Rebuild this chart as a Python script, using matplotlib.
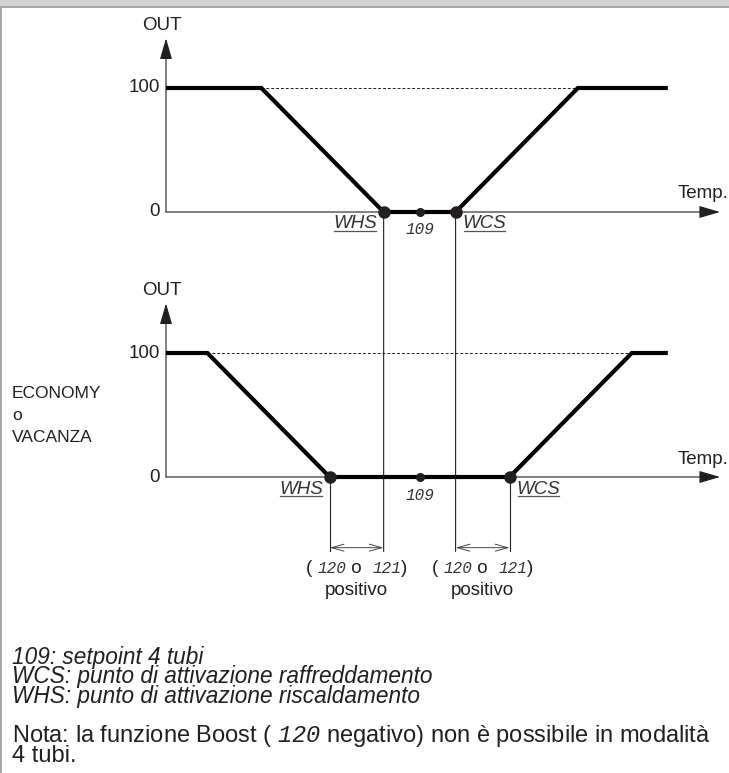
import matplotlib
matplotlib.use("Agg")
import matplotlib.pyplot as plt
from matplotlib.patches import Rectangle, ConnectionPatch
from matplotlib.lines import Line2D
from matplotlib.transforms import IdentityTransform
from matplotlib.offsetbox import TextArea, HPacker, AnnotationBbox

# ---------------- data ----------------
t_axis = [12.95, 28.35]            # temperature span of the horizontal axis
out_max = 140                      # top of the OUT axis (arrow tip)
out_ticks = [0, 100]
out_tick_labels = ["0", "100"]

setpoint_4t = 20.0                 # parameter 109
whs_comfort = 19.0
wcs_comfort = 21.0
comfort_t = [12.95, 15.6, 19.0, 21.0, 24.4, 26.9]
comfort_out = [100, 100, 0, 0, 100, 100]

whs_economy = 17.5                 # shifted by 120 / 121
wcs_economy = 22.5
economy_t = [12.95, 14.1, 17.5, 22.5, 25.9, 26.9]
economy_out = [100, 100, 0, 0, 100, 100]

dim_level = -57                    # OUT level of the offset dimension arrows

mode_label = ["ECONOMY", "o", "VACANZA"]
legend_lines = ["109: setpoint 4 tubi",
                "WCS: punto di attivazione raffreddamento",
                "WHS: punto di attivazione riscaldamento"]
note_lines = [r"Nota: la funzione Boost ( $\mathtt{120}$ negativo) non è possibile in modalità",
              "4 tubi."]

# ---------------- style ----------------
INK = "#231f20"
SANS = "Liberation Sans"
SEG = "Liberation Mono"
FS = 13.5
plt.rcParams["font.family"] = SANS
plt.rcParams["text.color"] = INK
plt.rcParams["mathtext.fontset"] = "custom"
plt.rcParams["mathtext.rm"] = "Liberation Sans"
plt.rcParams["mathtext.tt"] = "Liberation Mono:italic"

W, H = 729, 773
fig = plt.figure(figsize=(W / 100, H / 100), dpi=100)
fig.patch.set_facecolor("white")

# frame: grey title strip and left border
fig.add_artist(Rectangle((0, 1 - 6 / H), 1, 6 / H, transform=fig.transFigure,
                         color="#d3d3d5", lw=0))
fig.add_artist(Rectangle((0, 1 - 8 / H), 1, 2 / H, transform=fig.transFigure,
                         color="#a8a8a8", lw=0))
fig.add_artist(Rectangle((0, 0), 2 / W, 1 - 8 / H, transform=fig.transFigure,
                         color="#a8a8a8", lw=0))

PX_PER_OUT = 1.24


def make_axes(y_zero_px):
    x0, x1 = 166, 720
    top = y_zero_px - out_max * PX_PER_OUT
    ax = fig.add_axes([x0 / W, 1 - y_zero_px / H, (x1 - x0) / W,
                       (y_zero_px - top) / H])
    ax.set_xlim(t_axis)
    ax.set_ylim(0, out_max)
    ax.axis("off")
    return ax


ax_top = make_axes(212)
ax_bot = make_axes(477)

underlined = []


def draw_chart(ax, t, out, whs, wcs):
    arrow = dict(arrowstyle="-|>,head_length=13,head_width=3.8",
                 mutation_scale=1, lw=0.8, color=INK, shrinkA=0, shrinkB=0,
                 clip_on=False)
    ax.annotate("", xy=(t_axis[1], 0), xytext=(t_axis[0], 0),
                arrowprops=arrow, annotation_clip=False)
    ax.annotate("", xy=(t_axis[0], out_max), xytext=(t_axis[0], 0),
                arrowprops=arrow, annotation_clip=False)
    for v, lab in zip(out_ticks, out_tick_labels):
        ax.annotate(lab, xy=(t_axis[0], v), xytext=(-6, 0),
                    textcoords="offset pixels", ha="right", va="center",
                    fontsize=FS, annotation_clip=False)
    ax.annotate("OUT", xy=(t_axis[0], out_max), xytext=(-4, 13),
                textcoords="offset pixels", ha="center", va="center",
                fontsize=FS, annotation_clip=False)
    ax.annotate("Temp.", xy=(t_axis[1], 0), xytext=(8, 18),
                textcoords="offset pixels", ha="right", va="center",
                fontsize=FS, annotation_clip=False)

    # dashed 100 % reference between the two ramps
    ax.plot([t[1], t[4]], [out[1], out[4]], ls=(0, (3, 2)), lw=0.7,
            color=INK, zorder=2, clip_on=False)
    # output characteristic
    ax.plot(t, out, color="black", lw=3.0, solid_joinstyle="miter",
            solid_capstyle="butt", zorder=3, clip_on=False)
    ax.plot([whs, wcs], [0, 0], "o", ms=8, color=INK, zorder=4, clip_on=False)
    ax.plot([setpoint_4t], [0], "o", ms=5.5, color=INK, zorder=4,
            clip_on=False)

    ax.annotate("109", xy=(setpoint_4t, 0), xytext=(0, -18),
                textcoords="offset pixels", ha="center", va="center",
                fontsize=11.5, family=SEG, style="italic", color="#333333",
                annotation_clip=False)
    for x, name, dx, ha in [(whs, "WHS", -7, "right"), (wcs, "WCS", 7, "left")]:
        tx = ax.annotate(name, xy=(x, 0), xytext=(dx, -12),
                         textcoords="offset pixels", ha=ha, va="center",
                         fontsize=FS, style="italic", color="#333333",
                         annotation_clip=False)
        underlined.append(tx)


draw_chart(ax_top, comfort_t, comfort_out, whs_comfort, wcs_comfort)
draw_chart(ax_bot, economy_t, economy_out, whs_economy, wcs_economy)

# projection lines from the comfort switching points down to the dimensions
for x in (whs_comfort, wcs_comfort):
    con = ConnectionPatch(xyA=(x, 0), coordsA=ax_top.transData,
                          xyB=(x, dim_level - 3), coordsB=ax_bot.transData,
                          lw=0.8, color=INK, zorder=1)
    fig.add_artist(con)
for x in (whs_economy, wcs_economy):
    ax_bot.plot([x, x], [0, dim_level - 3], lw=0.8, color=INK, zorder=1,
                clip_on=False)

# offset dimensions (parameters 120 / 121)
for a, b in [(whs_economy, whs_comfort), (wcs_comfort, wcs_economy)]:
    ax_bot.annotate("", xy=(b, dim_level), xytext=(a, dim_level),
                    arrowprops=dict(arrowstyle="<->,head_length=0.9,head_width=0.25",
                                    lw=0.7, color="#444444", shrinkA=0,
                                    shrinkB=0, clip_on=False),
                    annotation_clip=False)
    sans = dict(fontsize=FS, family=SANS, color=INK)
    seg = dict(fontsize=11.5, family=SEG, style="italic", color="#333333")
    box = HPacker(children=[TextArea("( ", textprops=sans),
                            TextArea("120", textprops=seg),
                            TextArea(" o  ", textprops=sans),
                            TextArea("121", textprops=seg),
                            TextArea(")", textprops=sans)],
                  align="baseline", pad=0, sep=0)
    mid = (a + b) / 2
    ab = AnnotationBbox(box, (mid, dim_level), xybox=(0, -21),
                        xycoords="data", boxcoords="offset pixels",
                        frameon=False, box_alignment=(0.5, 0.5), pad=0,
                        annotation_clip=False)
    ax_bot.add_artist(ab)
    ax_bot.annotate("positivo", xy=(mid, dim_level), xytext=(0, -43),
                    textcoords="offset pixels", ha="center", va="center",
                    fontsize=FS, annotation_clip=False)

# mode caption on the left of the lower chart
for i, s in enumerate(mode_label):
    fig.text(12 / W, 1 - (393 + 22 * i) / H, s, ha="left", va="center",
             fontsize=12.5)

# legend of the symbols
fig.text(12 / W, 1 - 646 / H, "\n".join(legend_lines), ha="left", va="top",
         fontsize=16.3, style="italic", linespacing=0.8)

# note with the parameter code in display style
fig.text(12 / W, 1 - 723 / H, "\n".join(note_lines), ha="left", va="top",
         fontsize=17, linespacing=0.78)

# underline the switching point names
fig.canvas.draw()
renderer = fig.canvas.get_renderer()
for tx in underlined:
    bb = tx.get_window_extent(renderer)
    y = bb.y0 + 2
    fig.add_artist(Line2D([bb.x0 + 1, bb.x1 - 1], [y, y], lw=0.9,
                          color="#555555", transform=IdentityTransform()))

fig.savefig("out.png", dpi=100, facecolor="white")
